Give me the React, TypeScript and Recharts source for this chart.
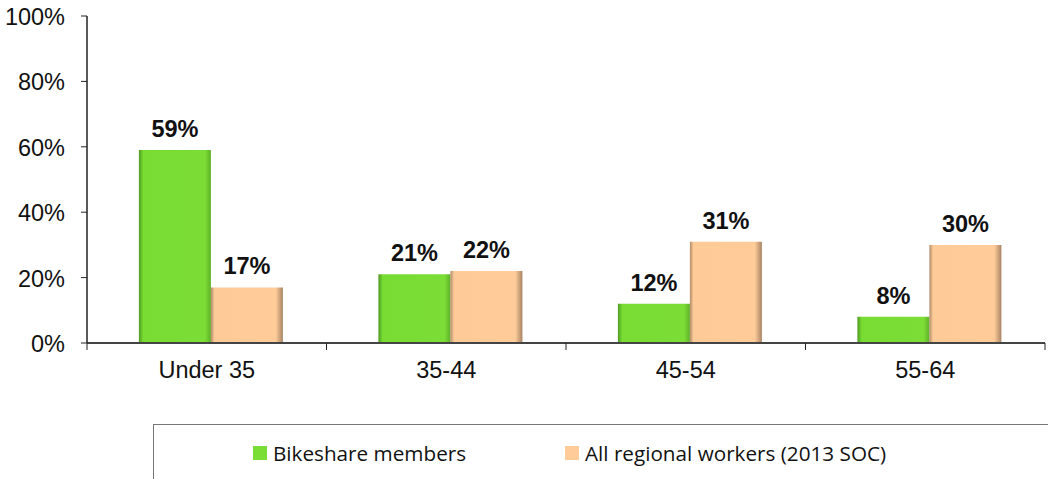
import React from "react";
import { BarChart, Bar, XAxis, YAxis, LabelList, Rectangle } from "recharts";

const categories = ["Under 35", "35-44", "45-54", "55-64"];
const bikeshare = [59, 21, 12, 8];
const regional = [17, 22, 31, 30];
const yTicks = [0, 20, 40, 60, 80, 100];
const seriesNames = ["Bikeshare members", "All regional workers (2013 SOC)"];

const data = categories.map((c, i) => ({ name: c, bike: bikeshare[i], region: regional[i] }));

const FONT = "Liberation Sans, Arial, sans-serif";
const SHIFT = 4;

const XTick = (props: any) => {
  const { x, y, payload, index, width, visibleTicksCount } = props;
  const band = width / visibleTicksCount;
  const left = x - band / 2;
  const isLast = index === visibleTicksCount - 1;
  return (
    <g>
      <line x1={left} x2={left} y1={y - 8} y2={y - 1} stroke="#222" strokeWidth={1} />
      {isLast && <line x1={x + band / 2} x2={x + band / 2} y1={y - 8} y2={y - 1} stroke="#222" strokeWidth={1} />}
      <text x={x} y={y + 27} textAnchor="middle" fontFamily={FONT} fontSize={23.5} fill="#111">
        {payload.value}
      </text>
    </g>
  );
};

const YTick = (props: any) => {
  const { x, y, payload } = props;
  return (
    <text x={x - 14} y={y + 9} textAnchor="end" fontFamily={FONT} fontSize={23.5} fill="#111">
      {payload.value}%
    </text>
  );
};

const ShiftedBar = (props: any) => <Rectangle {...props} x={props.x + SHIFT} />;

const BarLabel = (props: any) => {
  const { x, y, width, value } = props;
  return (
    <text x={x + width / 2 + SHIFT} y={y - 13} textAnchor="middle" fontFamily={FONT} fontSize={23.5} fontWeight={700} fill="#111">
      {`${value}%`}
    </text>
  );
};

const legendText = { fontFamily: "'Open Sans', sans-serif", fontSize: 20.7, color: "#111" };

export default function App() {
  return (
    <div style={{ position: "absolute", left: 0, top: 0, width: 1048, height: 479, background: "#fff", overflow: "hidden" }}>
      <BarChart
        width={1048}
        height={479}
        data={data}
        margin={{ top: 16, right: 3, bottom: 96, left: 7 }}
        barCategoryGap="20%"
        barGap={0}
      >
        <defs>
          <linearGradient id="gGreen" x1="0" y1="0" x2="1" y2="0">
            <stop offset="0" stopColor="#4E9A22" />
            <stop offset="0.06" stopColor="#78DC33" />
            <stop offset="0.92" stopColor="#7BDD35" />
            <stop offset="1" stopColor="#5FB028" />
          </linearGradient>
          <linearGradient id="gPeach" x1="0" y1="0" x2="1" y2="0">
            <stop offset="0" stopColor="#B08A66" />
            <stop offset="0.05" stopColor="#FDCA98" />
            <stop offset="0.9" stopColor="#FFCC99" />
            <stop offset="1" stopColor="#A88464" />
          </linearGradient>
        </defs>
        <XAxis
          dataKey="name"
          height={40}
          axisLine={{ stroke: "#444", strokeWidth: 2 }}
          tickLine={false}
          tick={<XTick />}
          interval={0}
        />
        <YAxis
          width={80}
          domain={[0, 100]}
          ticks={yTicks}
          interval={0}
          axisLine={{ stroke: "#222", strokeWidth: 1.5 }}
          tickLine={{ stroke: "#222" }}
          tickSize={6}
          tick={<YTick />}
        />
        <Bar dataKey="bike" fill="url(#gGreen)" shape={<ShiftedBar />} isAnimationActive={false}>
          <LabelList dataKey="bike" content={<BarLabel />} />
        </Bar>
        <Bar dataKey="region" fill="url(#gPeach)" shape={<ShiftedBar />} isAnimationActive={false}>
          <LabelList dataKey="region" content={<BarLabel />} />
        </Bar>
      </BarChart>
      <div
        style={{
          position: "absolute",
          left: 153,
          top: 424,
          width: 1000,
          height: 80,
          border: "1.5px solid #777",
          boxSizing: "border-box",
        }}
      />
      <div style={{ position: "absolute", left: 253, top: 439, display: "flex", alignItems: "center", ...legendText }}>
        <span style={{ display: "inline-block", width: 14, height: 14, background: "#7BDD35", marginRight: 6 }} />
        <span>{seriesNames[0]}</span>
      </div>
      <div style={{ position: "absolute", left: 565, top: 439, display: "flex", alignItems: "center", ...legendText }}>
        <span style={{ display: "inline-block", width: 14, height: 14, background: "#FFCC99", marginRight: 6 }} />
        <span>{seriesNames[1]}</span>
      </div>
    </div>
  );
}
